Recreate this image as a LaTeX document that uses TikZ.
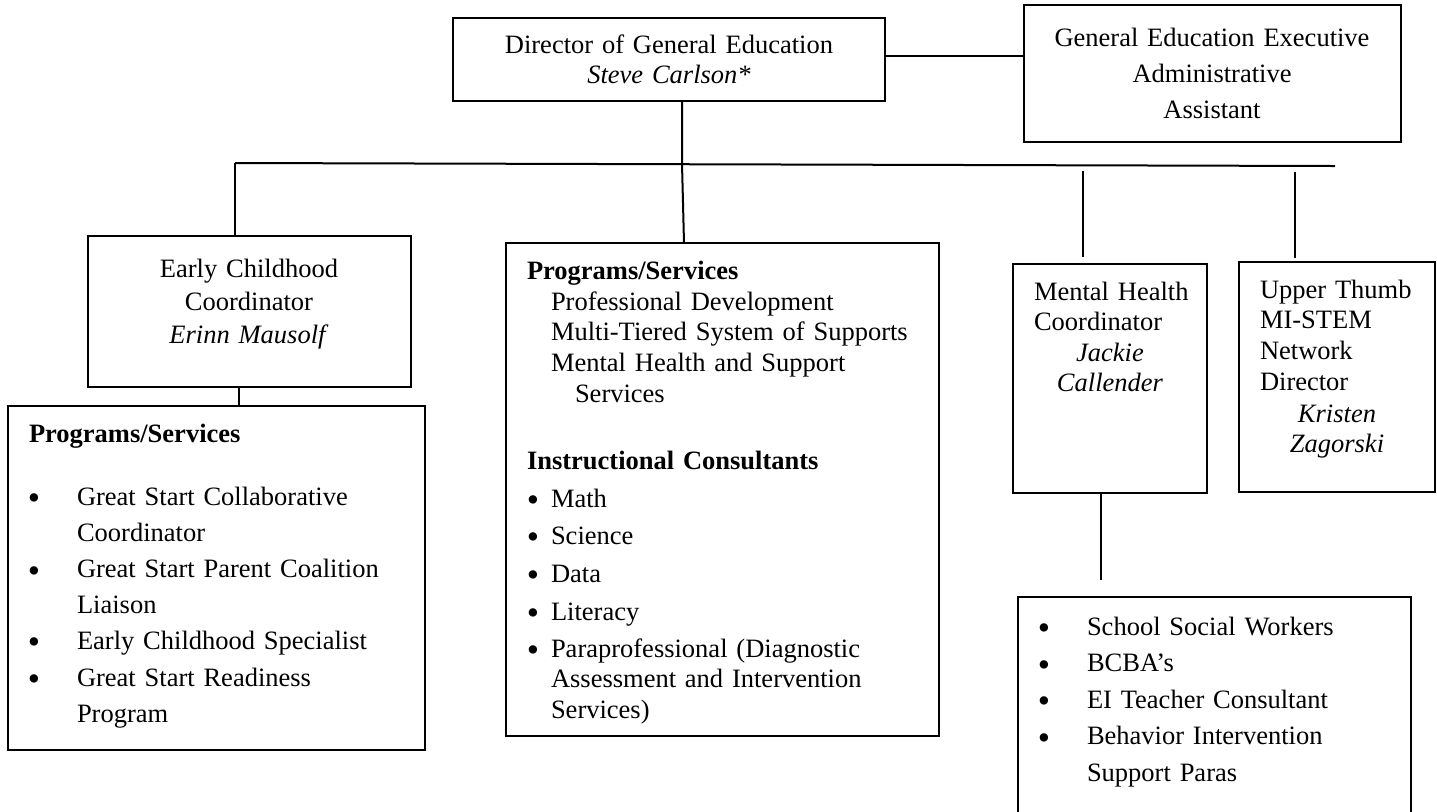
\documentclass[tikz,border=0pt]{standalone}
\usepackage{fontspec}
\setmainfont{Liberation Serif}
\usetikzlibrary{fit}
\begin{document}
\begin{tikzpicture}[x=0.5pt,y=-0.5pt,
  box/.style={draw, line width=1pt, inner sep=0pt, outer sep=0pt},
  conn/.style={line width=1pt},
  ls/.style={font=\fontsize{13.25}{#1}\selectfont},
  lft/.style={inner sep=0pt, outer sep=0pt, anchor=base west, align=left, text width=300pt, ls=15pt},
  ctr/.style={inner sep=0pt, outer sep=0pt, anchor=base, align=center, ls=15pt},
  bul/.style={inner sep=0pt, outer sep=0pt, anchor=base, yshift=-2.25pt, font=\fontsize{17.5}{18}\selectfont}]
\useasboundingbox (0,0) rectangle (1437,811);
\clip (0,0) rectangle (1437,811);
% boxes
\node[box, fit={(453,18) (885,101)}] (dir) {};
\node[box, fit={(1024,5) (1401,142)}] (exec) {};
\node[box, fit={(88,236) (411,387)}] (ec) {};
\node[box, fit={(8,406) (425,750)}] (psl) {};
\node[box, fit={(506,243) (939,736)}] (mid) {};
\node[box, fit={(1013,264) (1207,493)}] (mh) {};
\node[box, fit={(1239,262) (1435,492)}] (ut) {};
\node[box, fit={(1018,597) (1411,840)}] (br) {};
% coordinates
\coordinate (busL) at (235,163);
\coordinate (busR) at (1335,166);
\coordinate (busM) at (682,163.3);
\coordinate (mhT) at (1083,171);
\coordinate (mhB) at (1083,257);
\coordinate (utT) at (1295,172);
\coordinate (utB) at (1295,258);
\coordinate (brT) at (1101,580);
% connectors
\draw[conn] (dir.east |- 0,56) -- (exec.west |- 0,56);
\draw[conn] (busL) -- (busR);
\draw[conn] (busL) -- (busL |- ec.north);
\draw[conn] (dir.south -| busM) -- (busM) -- (mid.north -| 684,0);
\draw[conn] (mhT) -- (mhB);
\draw[conn] (utT) -- (utB);
\draw[conn] (ec.south -| 239,0) -- (psl.north -| 239,0);
\draw[conn] (mh.south -| brT) -- (brT);
% texts
\node[ctr, text width=216pt] (tdir) at (669,53) {Director of General Education\\\textit{Steve Carlson*}};
\node[ctr, text width=188pt, ls=18pt] (texec) at (1212,46) {General Education Executive\\Administrative\\Assistant};
\node[ctr, text width=161pt, ls=16.5pt] (tec) at (249,277) {Early Childhood\\Coordinator\\\textit{Erinn Mausolf}};
% left programs
\node[lft] (tpsl) at (29,442) {\textbf{Programs/Services}};
\node[lft, ls=18.1pt] (tpslitems) at (77,505) {Great Start Collaborative\\Coordinator\\Great Start Parent Coalition\\Liaison\\Early Childhood Specialist\\Great Start Readiness\\Program};
\node[bul] (b1) at (34,505) {•};
\node[bul] (b2) at (34,578) {•};
\node[bul] (b3) at (34,649) {•};
\node[bul] (b4) at (34,686) {•};
% middle
\node[lft] (tmid1) at (527,279) {\textbf{Programs/Services}};
\node[lft, ls=15.4pt] (tmid2) at (551,310) {Professional Development\\Multi-Tiered System of Supports\\Mental Health and Support};
\node[lft] (tmid3) at (575,402) {Services};
\node[lft] (tmid4) at (527,469) {\textbf{Instructional Consultants}};
\node[lft] (m1) at (551,507) {Math};
\node[lft] (m2) at (551,544) {Science};
\node[lft] (m3) at (551,582) {Data};
\node[lft] (m4) at (551,620) {Literacy};
\node[lft, ls=15.25pt] (m5) at (551,657) {Paraprofessional (Diagnostic\\Assessment and Intervention\\Services)};
\node[bul] (mb1) at (533,507) {•};
\node[bul] (mb2) at (533,544) {•};
\node[bul] (mb3) at (533,582) {•};
\node[bul] (mb4) at (533,620) {•};
\node[bul] (mb5) at (533,657) {•};
% mental health
\node[lft, ls=15.2pt] (tmh) at (1034,300) {Mental Health\\Coordinator};
\node[ctr, text width=97pt, ls=15.2pt] (tmhn) at (1110,361) {\textit{Jackie}\\\textit{Callender}};
% upper thumb
\node[lft, ls=15.4pt] (tut) at (1260,298) {Upper Thumb\\MI-STEM\\Network\\Director};
\node[ctr, text width=98pt, ls=15pt] (tutn) at (1337,422) {\textit{Kristen}\\\textit{Zagorski}};
% bottom right
\node[lft, ls=18.25pt] (tbr) at (1087,635) {School Social Workers\\BCBA’s\\EI Teacher Consultant\\Behavior Intervention\\Support Paras};
\node[bul] (rb1) at (1044,635) {•};
\node[bul] (rb2) at (1044,672) {•};
\node[bul] (rb3) at (1044,708) {•};
\node[bul] (rb4) at (1044,745) {•};
\end{tikzpicture}
\end{document}
